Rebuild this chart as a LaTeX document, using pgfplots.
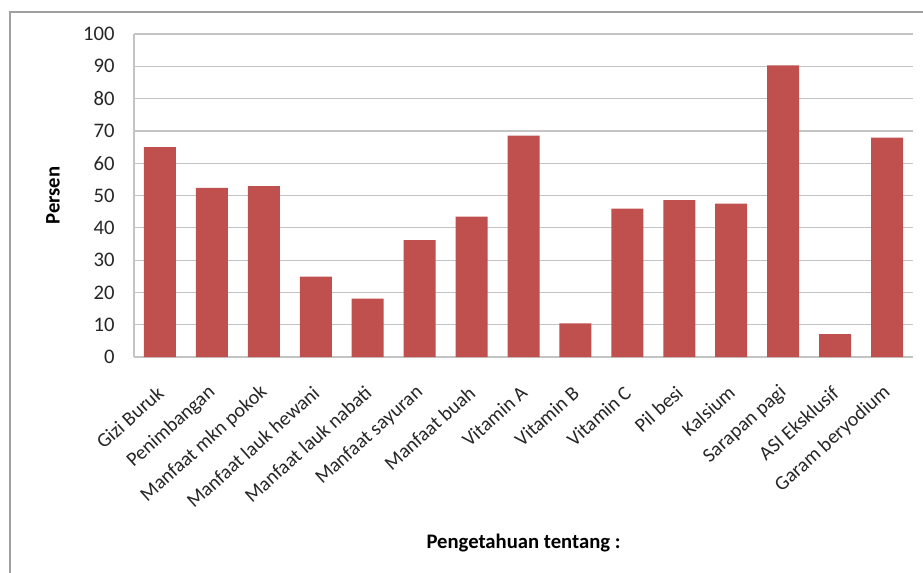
\documentclass[border=0pt]{standalone}
\usepackage{fontspec}
\setmainfont{Carlito}
\usepackage{pgfplots}
\pgfplotsset{compat=1.18}
\definecolor{barred}{HTML}{C0504D}
\definecolor{gridc}{HTML}{C4C4C4}
\definecolor{framec}{HTML}{A0A0A0}
\begin{document}
\begin{tikzpicture}
\useasboundingbox (-100.5pt,-161.25pt) rectangle (591.75pt,267.75pt);
\fill[white] (-100.5pt,-161.25pt) rectangle (591.75pt,267.75pt);
\draw[framec,line width=1.5pt] (-93pt,-170pt) -- (-93pt,258.75pt) -- (600pt,258.75pt);
\begin{axis}[
  at={(0,0)}, anchor=south west,
  scale only axis,
  width=584.25pt, height=242.25pt,
  ybar, bar width=24pt,
  xmin=-0.5, xmax=14.5,
  ymin=0, ymax=100,
  ytick={0,10,...,100},
  xtick=data,
  xticklabels={Gizi Buruk,Penimbangan,Manfaat mkn pokok,Manfaat lauk hewani,Manfaat lauk nabati,Manfaat sayuran,Manfaat buah,Vitamin A,Vitamin B,Vitamin C,Pil besi,Kalsium,Sarapan pagi,ASI Eksklusif,Garam beryodium},
  /pgf/number format/assume math mode=true,
  tick label style={font=\fontsize{15.5pt}{17pt}\selectfont, text=black!85},
  xticklabel style={font=\fontsize{15pt}{17pt}\selectfont, xshift=3pt, yshift=-18pt, rotate=42, anchor=east},
  yticklabel style={xshift=-11pt},
  major tick style={draw=none},
  ymajorgrids, grid style={gridc, line width=0.9pt},
  axis x line*=bottom, axis y line*=left,
  axis line style={gridc, line width=0.9pt, -},
  xlabel={\textbf{Pengetahuan tentang :}},
  ylabel={\textbf{Persen}},
  label style={font=\fontsize{15.5pt}{17pt}\selectfont, text=black},
  xlabel style={at={(axis description cs:0.5,-0.576)}, anchor=center},
  ylabel style={at={(axis description cs:-0.104,0.5)}, anchor=center},
]
\addplot[fill=barred, draw=none] coordinates {
(0,65.0) (1,52.4) (2,52.9) (3,24.9) (4,18.1) (5,36.2) (6,43.5) (7,68.5)
(8,10.4) (9,45.9) (10,48.6) (11,47.5) (12,90.3) (13,7.1) (14,67.9)};
\end{axis}
\end{tikzpicture}
\end{document}
